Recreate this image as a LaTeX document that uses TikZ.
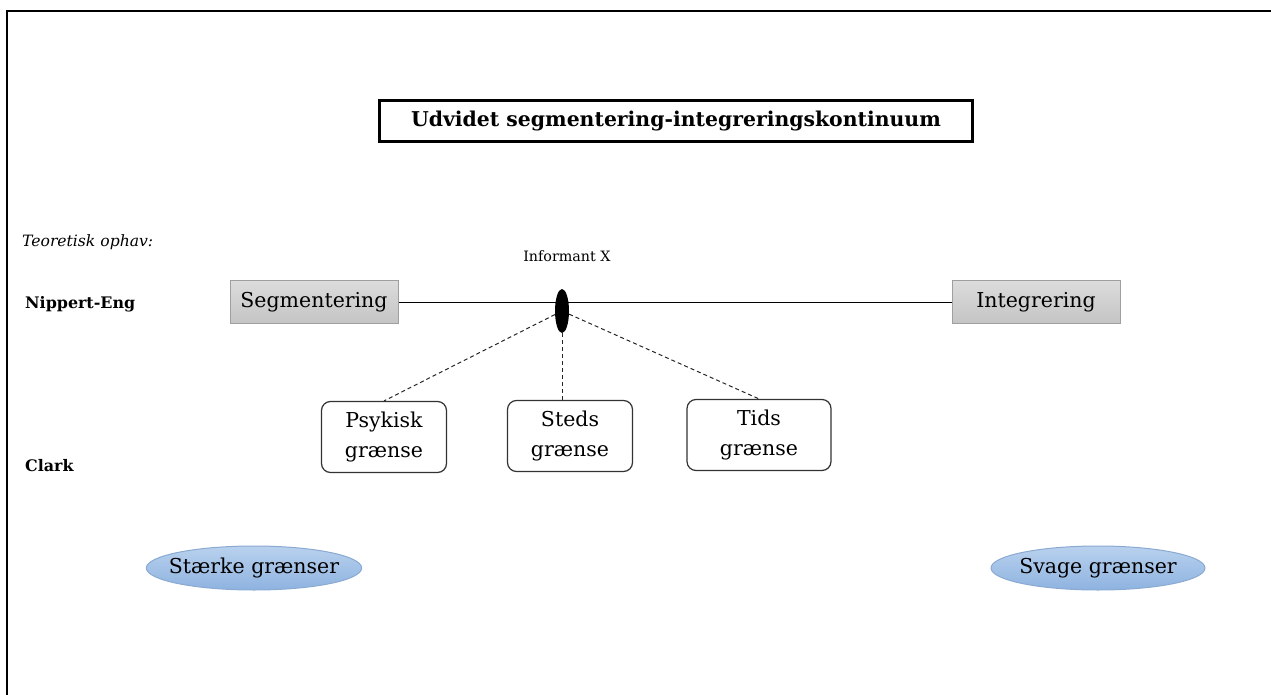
\documentclass[tikz,border=0pt]{standalone}
\usepackage{fontspec}
\setmainfont{DejaVu Serif}
\usetikzlibrary{positioning, shapes.geometric}
\definecolor{boxtop}{HTML}{DCDCDC}
\definecolor{boxbottom}{HTML}{C4C4C4}
\definecolor{ovaltop}{HTML}{B9D1EE}
\definecolor{ovalbottom}{HTML}{8EB3E0}
\definecolor{ovalline}{HTML}{8AAAD2}
\begin{document}
\begin{tikzpicture}[x=1pt, y=-1pt,
    endbox/.style={draw=gray!75, line width=1, top color=boxtop, bottom color=boxbottom,
      minimum width=168, minimum height=43, inner sep=0,
      font=\fontsize{20.5}{24}\selectfont},
    limitbox/.style={draw=black!80, line width=1.2, rounded corners=9, fill=white, align=center,
      minimum height=71, inner sep=0, font=\fontsize{20.5}{30}\selectfont},
    oval/.style={ellipse, draw=ovalline, line width=1, top color=ovaltop, bottom color=ovalbottom,
      minimum width=214, minimum height=44, inner xsep=-9pt, inner ysep=0,
      font=\fontsize{20.5}{24}\selectfont},
    sidelabel/.style={anchor=west, inner sep=0}]
  \useasboundingbox (0,0) rectangle (1271,695);
  % Frame
  \draw[line width=2] (7,695) -- (7,11) -- (1271,11);
  % Title
  \node[draw, line width=2.5, minimum width=593, minimum height=41, inner sep=0,
    font=\fontsize{20.4}{24}\selectfont\bfseries] (title) at (676,121)
    {Udvidet segmentering-integreringskontinuum};
  % Theory labels
  \node[sidelabel, font=\fontsize{15.6}{18}\selectfont\itshape] (theory) at (22,242) {Teoretisk ophav:};
  \node[sidelabel, font=\fontsize{15.9}{18}\selectfont\bfseries] (nippert) at (25,304) {Nippert-Eng};
  \node[sidelabel, font=\fontsize{15.9}{18}\selectfont\bfseries] (clark) at (25,466) {Clark};
  % Continuum
  \node[endbox] (seg) at (314,302) {Segmentering};
  \node[endbox] (integ) at (1036,302) {Integrering};
  \draw[line width=1] (seg.east) -- (integ.west);
  \node[ellipse, fill=black, minimum width=14, minimum height=44, inner sep=0] (inf) at (562,311) {};
  \node[font=\fontsize{14.3}{16}\selectfont] (infx) at (567,256) {Informant X};
  % Boundaries
  \node[limitbox, minimum width=125] (psy) at (384,437) {Psykisk\\grænse};
  \node[limitbox, minimum width=125] (steds) at (570,436) {Steds\\grænse};
  \node[limitbox, minimum width=144] (tids) at (759,435) {Tids\\grænse};
  \foreach \b in {psy, tids} {
    \draw[black!85, line width=1, dash pattern=on 4pt off 3pt] (inf) -- (\b.north);
  }
  \draw[black!85, line width=1, dash pattern=on 4pt off 3pt] (inf) -- (inf |- steds.north);
  % Strong and weak
  \node[oval] (strong) at (254,568) {Stærke grænser};
  \node[oval] (weak) at (1098,568) {Svage grænser};
\end{tikzpicture}
\end{document}
